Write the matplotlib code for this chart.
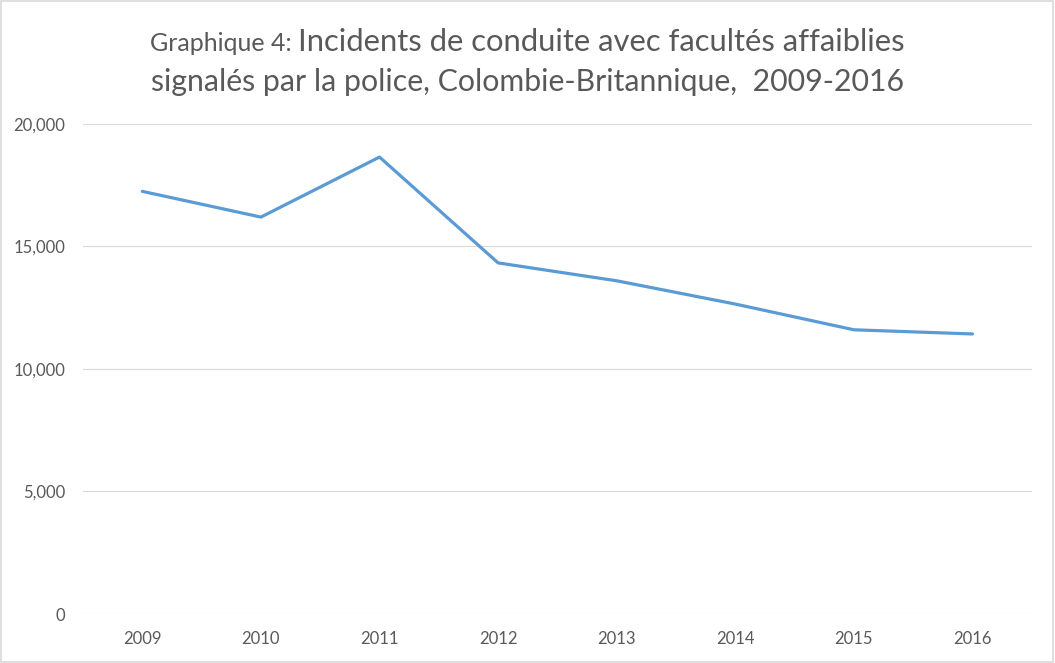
import matplotlib.pyplot as plt
from matplotlib.patches import Rectangle

plt.rcParams['font.family'] = ['Lato', 'DejaVu Sans']

years = ['2009', '2010', '2011', '2012', '2013', '2014', '2015', '2016']
incidents = [17250, 16200, 18650, 14330, 13600, 12650, 11600, 11430]

fig = plt.figure(figsize=(10.55, 6.63), dpi=100)
ax = fig.add_axes([0.0787, 0.0739, 0.8993, 0.7391])

x = list(range(len(years)))
ax.plot(x, incidents, color='#5B9BD5', lw=2.3, solid_capstyle='round', solid_joinstyle='round')

ax.set_xlim(-0.5, len(years) - 0.5)
ax.set_ylim(0, 20000)
ax.set_yticks([0, 5000, 10000, 15000, 20000])
ax.set_yticklabels(['0', '5,000', '10,000', '15,000', '20,000'])
ax.set_xticks(x)
ax.set_xticklabels(years)
ax.tick_params(colors='#595959', labelsize=12, length=0)
ax.tick_params(axis='y', pad=13)
ax.tick_params(axis='x', pad=12)
ax.grid(axis='y', color='#D9D9D9', lw=0.8)
ax.set_axisbelow(True)
for s in ax.spines.values():
    s.set_visible(False)

# title: small "Graphique 4:" then larger rest
fig.canvas.draw()
r = fig.canvas.get_renderer()
t1 = fig.text(0, 0, 'Graphique 4: ', fontsize=18, color='#595959', va='baseline')
t2 = fig.text(0, 0, 'Incidents de conduite avec facultés affaiblies', fontsize=22.3,
              color='#595959', va='baseline')
w1 = t1.get_window_extent(r).width
w2 = t2.get_window_extent(r).width
x0 = (1055 - (w1 + w2)) / 2 / 1055
t1.set_position((x0, 1 - 51 / 663))
t2.set_position((x0 + w1 / 1055, 1 - 51 / 663))
fig.text(0.5, 1 - 91 / 663, 'signalés par la police, Colombie-Britannique,  2009-2016',
         fontsize=21.8, color='#595959', ha='center', va='baseline')

fig.patches.append(Rectangle((0.001, 0.001), 0.997, 0.997, transform=fig.transFigure,
                             fill=False, edgecolor='#D9D9D9', lw=1.2))

fig.savefig('out.png', dpi=100)
